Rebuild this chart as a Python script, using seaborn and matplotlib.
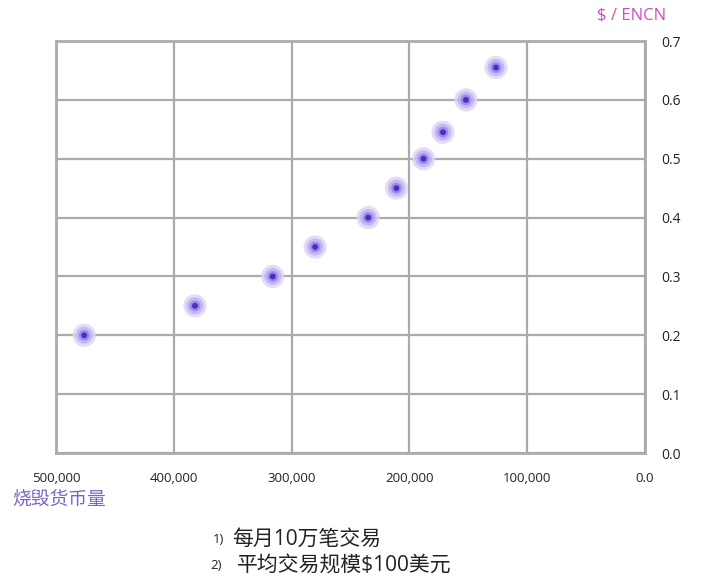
import matplotlib
matplotlib.use("Agg")
import matplotlib.pyplot as plt
import seaborn as sns
import pandas as pd

# burned tokens vs price
burn_amount = [476000, 382000, 316000, 280000, 235000, 211000, 188000, 171500, 152000, 126500]
price = [0.20, 0.25, 0.30, 0.35, 0.40, 0.45, 0.50, 0.545, 0.60, 0.655]

x_ticks = [500000, 400000, 300000, 200000, 100000, 0]
x_tick_labels = ["500,000", "400,000", "300,000", "200,000", "100,000", "0.0"]
y_ticks = [0.0, 0.1, 0.2, 0.3, 0.4, 0.5, 0.6, 0.7]
y_tick_labels = ["0.0", "0.1", "0.2", "0.3", "0.4", "0.5", "0.6", "0.7"]

df = pd.DataFrame({"burn": burn_amount, "price": price})

sns.set_theme(style="white")
plt.rcParams['font.family'] = ['Open Sans', 'Noto Sans CJK SC', 'DejaVu Sans']

fig = plt.figure(figsize=(7.05, 5.81), dpi=100)
ax = fig.add_axes([0.0794, 0.2203, 0.8355, 0.7091])

# halo layers then the dark centre
sns.scatterplot(data=df, x="burn", y="price", s=280, color="#ddd4f8", edgecolor="none", alpha=0.8, ax=ax, zorder=3)
sns.scatterplot(data=df, x="burn", y="price", s=150, color="#bfb0f2", edgecolor="none", alpha=0.8, ax=ax, zorder=4)
sns.scatterplot(data=df, x="burn", y="price", s=60, color="#9a85ea", edgecolor="none", alpha=0.9, ax=ax, zorder=5)
sns.scatterplot(data=df, x="burn", y="price", s=18, color="#4a2fc0", edgecolor="none", ax=ax, zorder=6)

ax.set_xlim(500000, 0)
ax.set_ylim(0, 0.7)
ax.set_xticks(x_ticks)
ax.set_xticklabels(x_tick_labels)
ax.set_yticks(y_ticks)
ax.set_yticklabels(y_tick_labels)
ax.yaxis.tick_right()
ax.tick_params(axis="x", length=0, pad=14, labelsize=9.5, labelcolor="#222222")
ax.tick_params(axis="y", length=0, pad=12, labelsize=10, labelcolor="#222222")
ax.set_xlabel("")
ax.set_ylabel("")

ax.grid(True, color="#ababab", linewidth=1.6)
for sp in ax.spines.values():
    sp.set_color("#ababab")
    sp.set_linewidth(2)
ax.set_axisbelow(True)

fig.text(0.847, 0.973, "$ / ENCN", color="#cc4fbf", fontsize=12, ha="left", va="center")
fig.text(0.017, 0.139, "烧毁货币量", color="#7c62c8", fontsize=13.5, ha="left", va="center",
         family=['Noto Sans CJK SC', 'DejaVu Sans'], fontweight="light")

fig.text(0.302, 0.071, "1)", fontsize=9.5, color="#222222", ha="left", va="center")
fig.text(0.330, 0.071, "每月10万笔交易", fontsize=15, color="#222222", ha="left", va="center")
fig.text(0.298, 0.026, "2)", fontsize=9.5, color="#222222", ha="left", va="center")
fig.text(0.336, 0.026, "平均交易规模$100美元", fontsize=15, color="#222222", ha="left", va="center")

fig.savefig("out.png", dpi=100)
